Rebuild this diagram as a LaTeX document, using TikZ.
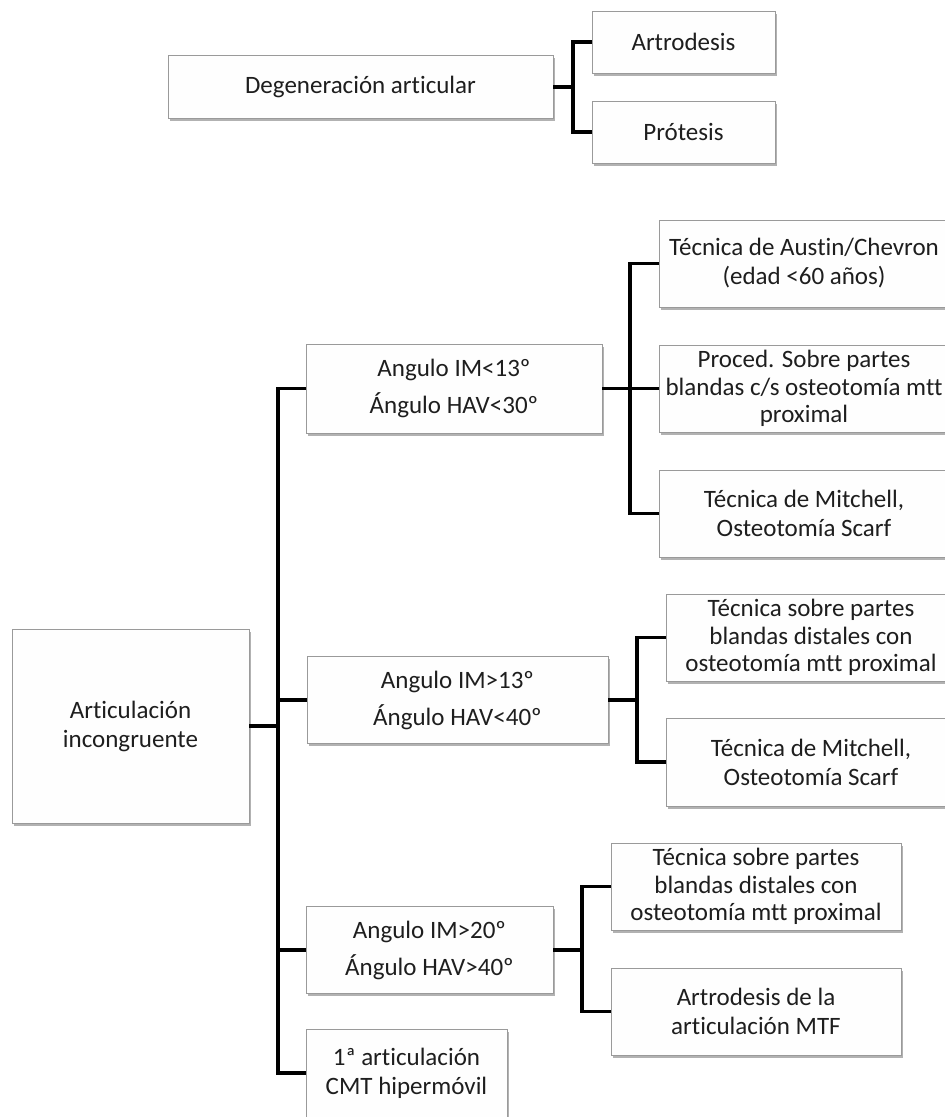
\documentclass[tikz,border=0pt]{standalone}
\usepackage{fontspec}
\setmainfont{Carlito}[Ligatures={NoCommon}]
\usetikzlibrary{shadows}
\definecolor{boxline}{HTML}{9A9A9A}
\definecolor{boxfill}{HTML}{FEFEFE}
\definecolor{txt}{HTML}{1E1E1E}
\begin{document}
\begin{tikzpicture}[x=1pt,y=-1pt,
  box/.style={draw=boxline, line width=0.8pt, fill=boxfill, inner sep=0pt,
    align=center, text=txt, font=\fontsize{25}{29}\selectfont,
    drop shadow={shadow xshift=1.8pt, shadow yshift=-2.6pt, fill=black, opacity=0.3}},
  conn/.style={line width=3.5pt, black, line join=miter}
]
\useasboundingbox (0,0) rectangle (945,1117);
\fill[white] (0,0) rectangle (945,1117);

% top group
\node[box, minimum width=385pt, minimum height=63pt] (deg) at (360.5,87) {Degeneración articular};
\node[box, minimum width=183pt, minimum height=62pt] (art) at (683.5,42) {Artrodesis};
\node[box, minimum width=183pt, minimum height=62pt] (pro) at (683.5,132) {Prótesis};

% main tree
\node[box, minimum width=237pt, minimum height=194pt] (inc) at (130.5,726) {Articulación\\incongruente};
\node[box, minimum width=296pt, minimum height=89pt] (a1) at (454,388.5) {Angulo IM<13º\\[8pt]Ángulo HAV<30º};
\node[box, minimum width=301pt, minimum height=87pt] (a2) at (457.5,700) {Angulo IM>13º\\[8pt]Ángulo HAV<40º};
\node[box, minimum width=247pt, minimum height=87pt] (a3) at (429.5,950) {Angulo IM>20º\\[8pt]Ángulo HAV>40º};
\node[box, minimum width=201pt, minimum height=88pt] (cmt) at (406.5,1073) {1ª articulación\\CMT hipermóvil};

\node[box, minimum width=290pt, minimum height=87pt] (aus) at (804,263.5) {Técnica de Austin/Chevron\\(edad <60 años)};
\node[box, minimum width=290pt, minimum height=87pt, font=\fontsize{25}{27.5}\selectfont] (prc) at (804,388.5) {Proced. Sobre partes\\blandas c/s osteotomía mtt\\proximal};
\node[box, minimum width=290pt, minimum height=87pt] (mi1) at (804,513.5) {Técnica de Mitchell,\\Osteotomía Scarf};

\node[box, minimum width=290pt, minimum height=87pt, font=\fontsize{25}{27.5}\selectfont] (ts2) at (811,637.5) {Técnica sobre partes\\blandas distales con\\osteotomía mtt proximal};
\node[box, minimum width=290pt, minimum height=88pt] (mi2) at (811,762) {Técnica de Mitchell,\\Osteotomía Scarf};

\node[box, minimum width=290pt, minimum height=87pt, font=\fontsize{25}{27.5}\selectfont] (ts3) at (756,886.5) {Técnica sobre partes\\blandas distales con\\osteotomía mtt proximal};
\node[box, minimum width=290pt, minimum height=87pt] (mtf) at (756,1011.5) {Artrodesis de la\\articulación MTF};

% connectors
\coordinate (j0) at (573,87);
\draw[conn] (deg.east) -- (j0);
\draw[conn] (art.west) -| (j0) |- (pro.west);

\coordinate (t0) at (278,726);
\draw[conn] (inc.east) -- (t0);
\draw[conn] (a1.west) -| (t0) |- (cmt.west);
\draw[conn] (t0 |- a2.west) -- (a2.west);
\draw[conn] (t0 |- a3.west) -- (a3.west);

\coordinate (t1) at (630,388.5);
\draw[conn] (a1.east) -- (prc.west);
\draw[conn] (aus.west) -| (t1) |- (mi1.west);

\coordinate (t2) at (637,700);
\draw[conn] (a2.east) -- (t2);
\draw[conn] (ts2.west) -| (t2) |- (mi2.west);

\coordinate (t3) at (582,950);
\draw[conn] (a3.east) -- (t3);
\draw[conn] (ts3.west) -| (t3) |- (mtf.west);
\end{tikzpicture}
\end{document}
